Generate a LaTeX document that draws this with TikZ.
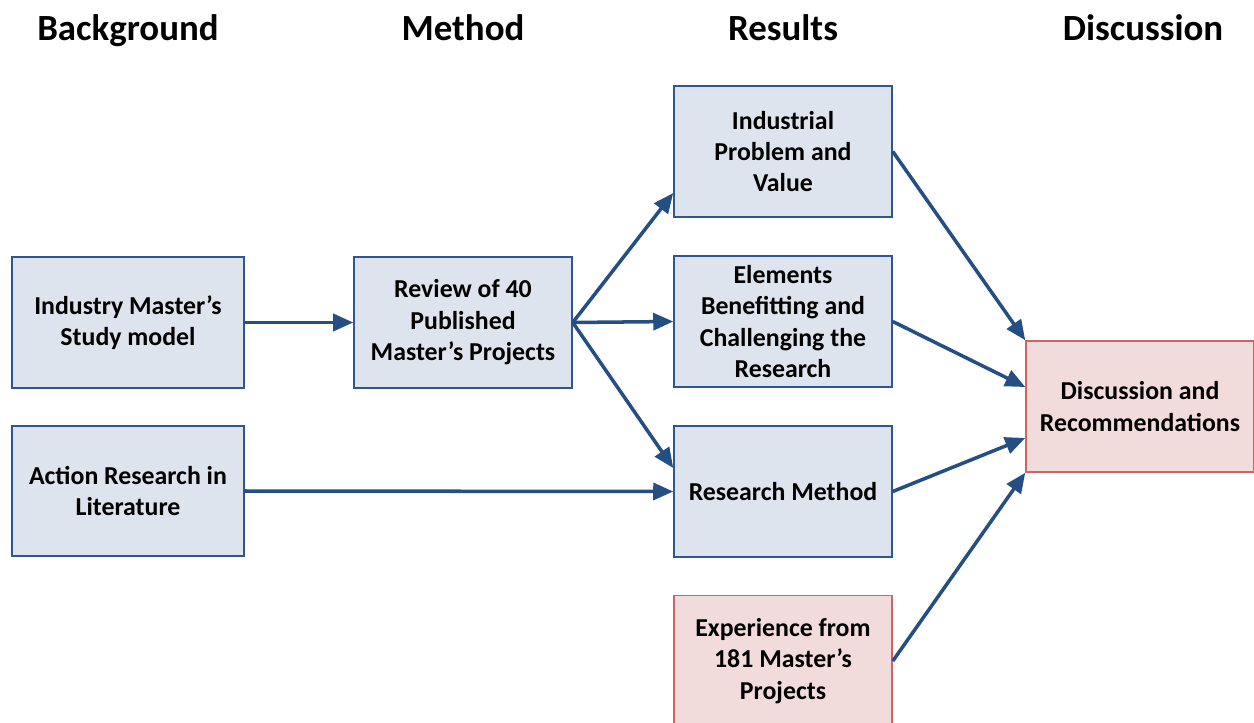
\documentclass[tikz,border=0pt]{standalone}
\usepackage{fontspec}
\setmainfont{Carlito}
\usepackage{tikz}
\usetikzlibrary{arrows.meta}
\usetikzlibrary{positioning}

\definecolor{boxblue}{RGB}{222,228,237}
\definecolor{lineblue}{RGB}{47,85,151}
\definecolor{boxpink}{RGB}{242,220,219}
\definecolor{linepink}{RGB}{208,100,100}
\definecolor{arrowblue}{RGB}{37,78,130}

\begin{document}
\begin{tikzpicture}[x=0.02cm,y=-0.02cm,
  every node/.style={font=\fontsize{14.7}{17.9}\selectfont\bfseries,align=center},
  bluebox/.style={draw=lineblue,line width=0.9pt,fill=boxblue,minimum width=4.36cm,minimum height=2.62cm,inner sep=2pt},
  pinkbox/.style={draw=linepink,line width=0.9pt,fill=boxpink,minimum width=4.36cm,minimum height=2.62cm,inner sep=2pt},
  head/.style={font=\fontsize{21}{24}\selectfont\bfseries,anchor=base},
  flow/.style={draw=arrowblue,line width=2pt,-{Triangle[length=0.4cm,width=0.34cm]}}]
  \useasboundingbox (0,0) rectangle (1254,723);

  % column titles
  \node[head] (hbg) at (128,41) {Background};
  \node[head] (hme) at (463,41) {Method};
  \node[head] (hre) at (783,41) {Results};
  \node[head] (hdi) at (1143,41) {Discussion};

  % background
  \node[bluebox,minimum width=4.64cm] (ims) at (128,322.5) {Industry Master's\\Study model};
  \node[bluebox,minimum width=4.64cm,minimum height=2.6cm] (arl) at (128,491) {Action Research in\\Literature};

  % method
  \node[bluebox] (rev) at (463,322.5) {Review of 40\\Published\\Master's Projects};

  % results
  \node[bluebox] (ipv) at (783,151.5) {Industrial\\Problem and\\Value};
  \node[bluebox] (ebc) at (783,321.5) {Elements\\Benefitting and\\Challenging the\\Research};
  \node[bluebox] (rm) at (783,491.5) {Research Method};
  \node[pinkbox] (exp) at (783,661) {Experience from\\181 Master's\\Projects};

  % discussion
  \node[pinkbox,minimum width=4.56cm] (dis) at (1140,406.5) {Discussion and\\Recommendations};

  \draw[flow] (ims.east) -- (rev.west);
  \draw[flow] (rev.east) -- ([yshift=-0.83cm]ipv.west);
  \draw[flow] (rev.east) -- (ebc.west);
  \draw[flow] (rev.east) -- ([yshift=0.47cm]rm.west);
  \draw[flow] (arl.east) -- (rm.west);
  \draw[flow] (ipv.east) -- (dis.north west);
  \draw[flow] (ebc.east) -- ([yshift=0.39cm]dis.west);
  \draw[flow] (rm.east) -- ([yshift=-0.63cm]dis.west);
  \draw[flow] (exp.east) -- (dis.south west);
\end{tikzpicture}
\end{document}
